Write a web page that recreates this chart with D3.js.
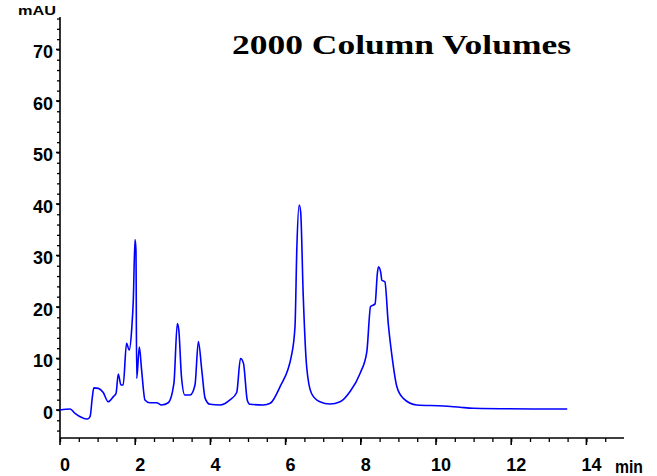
<!DOCTYPE html>
<html><head><meta charset="utf-8">
<script src="https://cdn.jsdelivr.net/npm/d3@7"></script>
<style>body{margin:0;background:#fff}svg{display:block}</style>
</head><body>
<svg id="c" width="657" height="476"></svg>
<script>
const title = "2000 Column Volumes";
const yUnit = "mAU";
const xUnit = "min";
const xTickLabels = [0, 2, 4, 6, 8, 10, 12, 14];
const yTickLabels = [0, 10, 20, 30, 40, 50, 60, 70];
const timeMin = [0, 0.27, 0.4, 0.73, 0.8, 0.86, 0.9, 1.02, 1.15, 1.28, 1.42, 1.49, 1.55, 1.62, 1.68, 1.77, 1.84, 1.91, 1.95, 1.995, 2.02, 2.04, 2.11, 2.17, 2.26, 2.39, 2.57, 2.70, 2.88, 3.03, 3.12, 3.16, 3.23, 3.32, 3.46, 3.59, 3.68, 3.77, 3.86, 3.99, 4.26, 4.52, 4.70, 4.80, 4.88, 4.98, 5.05, 5.41, 5.59, 5.85, 6.16, 6.25, 6.30, 6.36, 6.40, 6.47, 6.56, 6.69, 6.91, 7.18, 7.45, 7.71, 7.98, 8.16, 8.26, 8.38, 8.44, 8.47, 8.53, 8.56, 8.64, 8.73, 8.82, 8.96, 9.13, 9.49, 10.2, 10.64, 10.99, 12.58, 13.49];
const absorbance = [0, 0.2, -0.65, -1.75, -1.3, 2.5, 4.3, 4.2, 3.4, 1.6, 2.6, 3.2, 7.0, 4.85, 4.85, 12.95, 11.65, 16.0, 21.4, 33.1, 31, 6.15, 12.2, 7.8, 1.95, 1.4, 1.4, 0.97, 1.4, 5.2, 16.8, 15.5, 6.5, 2.9, 2.9, 4.85, 13.3, 7.8, 2.26, 1.1, 0.97, 1.95, 3.4, 10.0, 9.05, 1.95, 1.1, 0.97, 1.3, 4.5, 10.7, 16.2, 31.7, 39.8, 38.5, 22, 8.4, 3.2, 1.6, 1.16, 1.6, 3.55, 7.1, 11.3, 20.1, 20.6, 26.5, 27.8, 26.7, 25.2, 24.9, 16.8, 11, 4.5, 2.26, 0.97, 0.78, 0.52, 0.33, 0.2, 0.19];

const svg = d3.select("#c");
const x = d3.scaleLinear().domain([0, 15]).range([60, 624]);
const y = d3.scaleLinear().domain([-5.44, 76.3]).range([438, 17]);
const font = "'Liberation Sans', Arial, sans-serif";

// y axis
const yMinor = d3.range(-4, 77, 2);
const yAx = svg.append("g").attr("transform", `translate(${x(0)},0)`)
  .call(d3.axisLeft(y).tickValues(yMinor).tickSize(3).tickFormat(""));
yAx.select(".domain").remove();
yAx.selectAll("line").attr("stroke", "#000").attr("stroke-width", 1.3);
svg.append("line").attr("x1", x(0)).attr("x2", x(0)).attr("y1", y(76.3)).attr("y2", y(-5.44))
  .attr("stroke", "#000").attr("stroke-width", 1.6);
svg.append("g").selectAll("line").data(yTickLabels).join("line")
  .attr("x1", x(0) - 4).attr("x2", x(0)).attr("y1", d => y(d)).attr("y2", d => y(d))
  .attr("stroke", "#000").attr("stroke-width", 1.6);
svg.append("g").selectAll("text").data(yTickLabels).join("text")
  .attr("x", 53).attr("y", d => y(d) + 9).attr("text-anchor", "end")
  .attr("font-family", font).attr("font-weight", "bold").attr("font-size", 18)
  .text(d => d);

// x axis
const xMinor = d3.range(0, 14.51, 0.5);
const xAx = svg.append("g").attr("transform", `translate(0,${y(-5.44)})`)
  .call(d3.axisBottom(x).tickValues(xMinor).tickSize(4).tickFormat(""));
xAx.select(".domain").remove();
xAx.selectAll("line").attr("stroke", "#000").attr("stroke-width", 1.3);
svg.append("line").attr("x1", x(0)).attr("x2", x(15)).attr("y1", y(-5.44)).attr("y2", y(-5.44))
  .attr("stroke", "#000").attr("stroke-width", 1.6);
svg.append("g").selectAll("line").data(xTickLabels).join("line")
  .attr("x1", d => x(d)).attr("x2", d => x(d)).attr("y1", y(-5.44)).attr("y2", y(-5.44) + 7)
  .attr("stroke", "#000").attr("stroke-width", 1.6);
svg.append("g").selectAll("text").data(xTickLabels).join("text")
  .attr("x", d => x(d) + 5).attr("y", 471).attr("text-anchor", "middle")
  .attr("font-family", font).attr("font-weight", "bold").attr("font-size", 18)
  .text(d => d);

// units
svg.append("text").attr("x", 18).attr("y", 15).attr("font-family", font)
  .attr("font-weight", "bold").attr("font-size", 13)
  .attr("textLength", 38).attr("lengthAdjust", "spacingAndGlyphs").text(yUnit);
svg.append("text").attr("x", 615).attr("y", 473).attr("font-family", font)
  .attr("font-weight", "bold").attr("font-size", 18)
  .attr("textLength", 28).attr("lengthAdjust", "spacingAndGlyphs").text(xUnit);

// title
svg.append("text").attr("x", 232).attr("y", 54)
  .attr("font-family", "'Liberation Serif', 'Times New Roman', serif")
  .attr("font-weight", "bold").attr("font-size", 27)
  .attr("textLength", 339).attr("lengthAdjust", "spacingAndGlyphs").text(title);

// trace
const pts = timeMin.map((t, i) => [t, absorbance[i]]);
svg.append("path").datum(pts)
  .attr("fill", "none").attr("stroke", "#0000ff").attr("stroke-width", 1.6)
  .attr("stroke-linejoin", "round")
  .attr("d", d3.line().x(d => x(d[0])).y(d => y(d[1])).curve(d3.curveMonotoneX));
</script>
</body></html>
